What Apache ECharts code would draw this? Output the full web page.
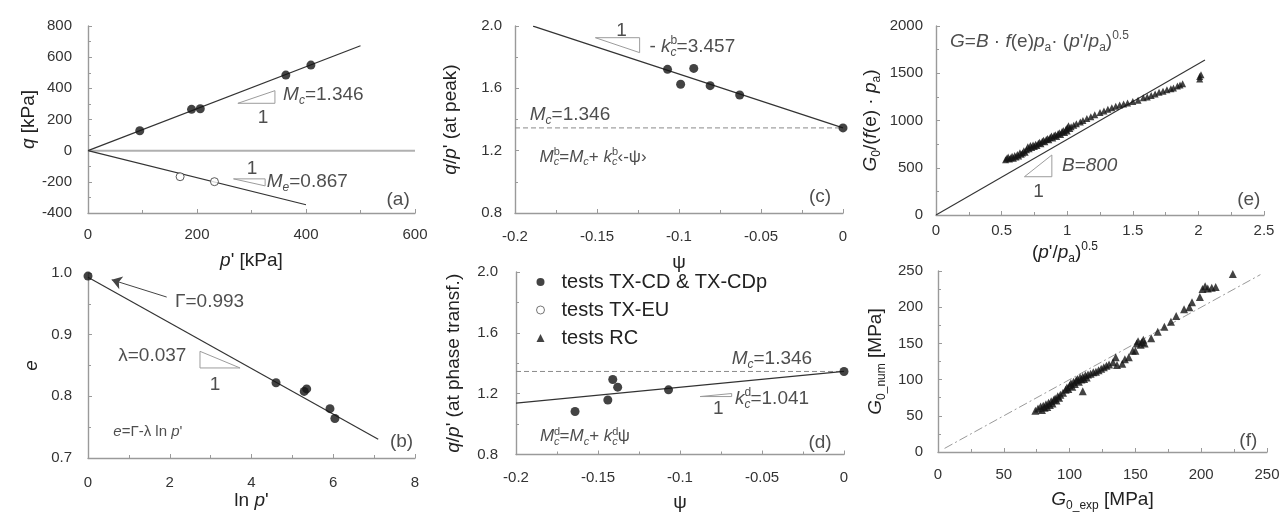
<!DOCTYPE html>
<html>
<head>
<meta charset="utf-8">
<script src="https://cdn.jsdelivr.net/npm/echarts@6/dist/echarts.min.js"></script>
<style>
  html, body { margin: 0; padding: 0; background: #fff; }
  #chart { width: 1283px; height: 513px; }
</style>
</head>
<body>
<div id="chart"></div>
<script>
// ---------- (a) stress ratio at critical state: q versus p'
const aCompP = [95, 190, 206, 363, 409];
const aCompQ = [128, 265, 269, 485, 549];
const aExtP = [169, 232];
const aExtQ = [-167, -199];
const Mc = 1.346;
const Me = 0.867;
const aMcLineP = [0, 500];
const aMeLineP = [0, 400];

// ---------- (b) critical state line e versus ln p'
const bLnP = [0, 4.60, 5.29, 5.35, 5.92, 6.04];
const bE = [0.995, 0.822, 0.808, 0.812, 0.780, 0.764];
const Gamma = 0.993;
const lambda = 0.037;
const bLineLnP = [0, 7.1];

// ---------- (c) stress ratio at peak versus state parameter
const cPsi = [-0.107, -0.099, -0.091, -0.081, -0.063, 0];
const cRatio = [1.722, 1.626, 1.728, 1.617, 1.557, 1.346];
const minusKcb = 3.457;
const cLinePsi = [-0.189, 0];

// ---------- (d) stress ratio at phase transformation versus state parameter
const dPsi = [-0.164, -0.144, -0.141, -0.138, -0.107, 0];
const dRatio = [1.083, 1.158, 1.293, 1.243, 1.225, 1.346];
const kcd = 1.041;
const dLinePsi = [-0.2, 0];

// ---------- (e) normalised small-strain shear modulus, RC tests
const eRC = [
  [0.53,585],[0.54,600],[0.55,615],[0.56,592],[0.57,606],[0.58,622],[0.59,600],[0.60,630],
  [0.61,614],[0.62,640],[0.63,625],[0.64,660],[0.65,642],[0.66,655],[0.67,680],[0.68,664],
  [0.69,690],[0.70,722],[0.71,702],[0.72,735],[0.73,715],[0.74,742],[0.75,726],[0.76,750],
  [0.77,736],[0.78,760],[0.79,770],[0.80,755],[0.81,780],[0.82,790],[0.83,776],[0.84,800],
  [0.85,810],[0.86,796],[0.87,820],[0.88,835],[0.89,816],[0.90,840],[0.91,850],[0.92,832],
  [0.93,860],[0.94,870],[0.95,852],[0.96,880],[0.97,895],[0.98,872],[0.99,905],[1.00,922],
  [1.00,890],[1.01,945],[1.02,915],[1.03,935],[1.05,950],[1.07,965],[1.10,985],[1.12,1000],
  [1.15,1020],[1.18,1040],[1.21,1060],[1.25,1085],[1.28,1100],[1.31,1120],[1.34,1135],[1.37,1150],
  [1.40,1165],[1.43,1175],[1.46,1185],[1.50,1200],[1.54,1215],[1.58,1240],[1.61,1250],[1.64,1265],
  [1.67,1280],[1.70,1300],[1.73,1310],[1.76,1325],[1.79,1335],[1.81,1345],[1.84,1365],[1.86,1375],
  [1.88,1390],[2.01,1440],[2.01,1465],[2.02,1485]
];
const B = 800;
const eLineX = [0, 2.05];

// ---------- (f) computed versus measured G0
const fRC = [
  [74,57],[76,60],[78,63],[79,58],[80,64],[81,61],[82,66],[83,62],[84,68],[85,65],[86,70],[87,67],
  [88,72],[89,74],[90,71],[91,77],[92,75],[93,79],[95,82],[97,86],[98,89],[99,87],[100,92],[101,95],
  [102,90],[103,97],[104,94],[105,99],[106,101],[107,97],[108,103],[109,100],[110,104],[111,101],
  [112,106],[113,103],[114,107],[116,108],[118,110],[120,111],[122,113],[124,115],[126,117],[128,119],
  [110,84],[130,121],[133,124],[135,131],[136,120],[140,122],[142,128],[145,131],[148,140],[150,140],
  [151,150],[152,153],[154,148],[155,152],[156,155],[157,150],[162,157],[167,166],[172,173],[177,180],
  [181,188],[187,197],[191,200],[193,207],[199,214],[201,225],[203,229],[205,226],[208,227],[211,228],
  [224,246]
];
const fOneToOne = [5, 245];

// ---------- styling
const FF = '"Liberation Sans", Arial, Helvetica, sans-serif';
const TXT = '#222';
const AX = '#9a9a9a';
const INK = '#141414';
const LEG_CD = 'tests TX-CD & TX-CDp';
const LEG_EU = 'tests TX-EU';
const LEG_RC = 'tests RC';

function richSet(fs) {
  const sub = Math.round(fs * 0.62);
  const lh = Math.round(fs * 1.25);
  const base = { fontFamily: FF, color: TXT };
  return {
    n:  Object.assign({ fontSize: fs, lineHeight: lh }, base),
    i:  Object.assign({ fontSize: fs, lineHeight: lh, fontStyle: 'italic' }, base),
    s:  Object.assign({ fontSize: sub, lineHeight: sub + 2, verticalAlign: 'bottom' }, base),
    si: Object.assign({ fontSize: sub, lineHeight: sub + 2, verticalAlign: 'bottom', fontStyle: 'italic' }, base),
    u:  Object.assign({ fontSize: sub, lineHeight: sub + 2, verticalAlign: 'top' }, base),
    u0: Object.assign({ fontSize: sub, lineHeight: sub + 2, verticalAlign: 'top', width: 0 }, base)
  };
}
const R19 = richSet(19);
const R17 = richSet(17);
const R15 = richSet(15);

const grids = [
  { left: 88,  top: 26,  width: 327, height: 187 }, // (a)
  { left: 515, top: 26,  width: 328, height: 187 }, // (c)
  { left: 936, top: 26,  width: 328, height: 189 }, // (e)
  { left: 88,  top: 273, width: 327, height: 185 }, // (b)
  { left: 516, top: 272, width: 328, height: 186 }, // (d)
  { left: 938, top: 271, width: 329, height: 187 }  // (f)
];
const GA = 0, GC = 1, GE = 2, GB = 3, GD = 4, GF = 5;

function axis(gi, min, max, interval, name, nameGap, labelMargin, fmt, extra) {
  const ax = {
    gridIndex: gi, type: 'value', min: min, max: max, interval: interval,
    axisLine: { show: true, onZero: false, lineStyle: { color: AX, width: 1.4 } },
    axisTick: { show: true, inside: true, length: 4, lineStyle: { color: AX, width: 1 } },
    minorTick: { show: true, splitNumber: 2, length: 3, lineStyle: { color: AX, width: 1 } },
    splitLine: { show: false },
    axisLabel: { fontSize: 15, color: '#333', fontFamily: FF, margin: labelMargin, formatter: fmt || (v => String(v)) },
    name: name, nameLocation: 'middle', nameGap: nameGap,
    nameTextStyle: { fontSize: 19, color: TXT, fontFamily: FF, rich: R19 }
  };
  return Object.assign(ax, extra || {});
}
const f1 = v => v.toFixed(1);

const xAxes = [
  axis(GA, 0, 600, 200, '{i|p}{n|\' [kPa]}', 36, 14),
  axis(GC, -0.2, 0, 0.05, '{n|ψ}', 38, 16),
  axis(GE, 0, 2.5, 0.5, '{n|(}{i|p}{n|\'/}{i|p}{s|a}{n|)}{u|0.5}', 26, 8, null,
       { nameTextStyle: { fontSize: 19, color: TXT, fontFamily: FF, rich: R19, padding: [0, 70, 0, 0] } }),
  axis(GB, 0, 8, 2, '{n|ln }{i|p}{n|\'}', 28, 17),
  axis(GD, -0.2, 0, 0.05, '{n|ψ}', 36, 16),
  axis(GF, 0, 250, 50, '{i|G}{s|0_exp}{n| [MPa]}', 36, 15)
];
const yAxes = [
  axis(GA, -400, 800, 200, '{i|q}{n| [kPa]}', 47, 16),
  axis(GC, 0.8, 2.0, 0.4, '{i|q}{n|/}{i|p}{n|\' (at peak)}', 52, 13, f1),
  axis(GE, 0, 2000, 500, '{i|G}{s|0}{n|/(}{i|f}{n|(e) · }{i|p}{s|a}{n|)}', 53, 13),
  axis(GB, 0.7, 1.0, 0.1, '{i|e}', 44, 16, f1),
  axis(GD, 0.8, 2.0, 0.4, '{i|q}{n|/}{i|p}{n|\' (at phase transf.)}', 50, 18, f1),
  axis(GF, 0, 250, 50, '{i|G}{s|0_num}{n| [MPa]}', 50, 15)
];

// ---------- series helpers
function pts(xs, ys) { return xs.map((x, k) => [x, ys[k]]); }
function scatter(gi, name, data, symbol, size, itemStyle) {
  return {
    type: 'scatter', name: name, xAxisIndex: gi, yAxisIndex: gi, data: data,
    symbol: symbol, symbolSize: size, itemStyle: itemStyle, z: 5, silent: true
  };
}
function line(gi, data, color, width, type, z) {
  return {
    type: 'line', xAxisIndex: gi, yAxisIndex: gi, data: data, symbol: 'none',
    lineStyle: { color: color, width: width, type: type || 'solid' }, z: z || 3,
    silent: true, animation: false
  };
}
function text(gi, x, y, str, align, rich) {
  return {
    type: 'scatter', xAxisIndex: gi, yAxisIndex: gi, data: [[x, y]], symbolSize: 0,
    silent: true, z: 6,
    label: {
      show: true, position: 'inside', align: align || 'left', verticalAlign: 'middle',
      formatter: () => str, rich: rich || R19
    }
  };
}
const filled = { color: INK };
const open = { color: '#fff', borderColor: '#333', borderWidth: 1 };
const tri = { color: INK };
const slopeColor = '#9c9c9c';

const series = [
  // (a)
  line(GA, [[0, 0], [600, 0]], '#b0b0b0', 2, 'solid', 2),
  line(GA, aMcLineP.map(p => [p, Mc * p]), '#333', 1.2),
  line(GA, aMeLineP.map(p => [p, -Me * p]), '#333', 1.2),
  scatter(GA, LEG_CD, pts(aCompP, aCompQ), 'circle', 9, filled),
  scatter(GA, LEG_EU, pts(aExtP, aExtQ), 'circle', 8, open),
  line(GA, [[275, 304], [343, 304], [343, 385], [275, 304]], slopeColor, 1),
  line(GA, [[267, -181], [325, -181], [325, -226], [267, -181]], slopeColor, 1),
  text(GA, 321, 208, '{n|1}', 'center'),
  text(GA, 358, 357, '{i|M}{si|c}{n|=1.346}'),
  text(GA, 301, -113, '{n|1}', 'center'),
  text(GA, 328, -199, '{i|M}{si|e}{n|=0.867}'),
  text(GA, 569, -316, '{n|(a)}', 'center'),

  // (c)
  line(GC, [[-0.2, Mc], [0, Mc]], '#8a8a8a', 1, [5, 3]),
  line(GC, cLinePsi.map(p => [p, Mc - minusKcb * p]), '#333', 1.2),
  scatter(GC, LEG_CD, pts(cPsi, cRatio), 'circle', 9, filled),
  line(GC, [[-0.151, 1.925], [-0.124, 1.925], [-0.124, 1.829], [-0.151, 1.925]], slopeColor, 1),
  text(GC, -0.135, 1.969, '{n|1}', 'center'),
  text(GC, -0.118, 1.867, '{n|- }{i|k}{u0|b}{si|c}{n|=3.457}'),
  text(GC, -0.191, 1.429, '{i|M}{si|c}{n|=1.346}'),
  text(GC, -0.185, 1.159, '{i|M}{u0|b}{si|c}{n|=}{i|M}{si|c}{n|+ }{i|k}{u0|b}{si|c}{n|‹-ψ›}', 'left', R17),
  text(GC, -0.014, 0.905, '{n|(c)}', 'center'),

  // (e)
  line(GE, eLineX.map(x => [x, B * x]), '#333', 1.1),
  scatter(GE, LEG_RC, eRC, 'triangle', 7, tri),
  line(GE, [[0.674, 405], [0.883, 405], [0.883, 635], [0.674, 405]], slopeColor, 1),
  text(GE, 0.781, 247, '{n|1}', 'center'),
  text(GE, 0.96, 522, '{i|B=800}'),
  text(GE, 0.107, 1834, '{i|G}{n|=}{i|B}{n| · }{i|f}{n|(e)}{i|p}{s|a}{n|· (}{i|p}{n|\'/}{i|p}{s|a}{n|)}{u|0.5}', 'left', richSet(19)),
  text(GE, 2.384, 159, '{n|(e)}', 'center'),

  // (b)
  line(GB, bLineLnP.map(x => [x, Gamma - lambda * x]), '#333', 1.2),
  scatter(GB, LEG_CD, pts(bLnP, bE), 'circle', 9, filled),
  line(GB, [[2.74, 0.873], [2.74, 0.846], [3.72, 0.846], [2.74, 0.873]], slopeColor, 1),
  {
    type: 'line', xAxisIndex: GB, yAxisIndex: GB, data: [], silent: true,
    markLine: {
      silent: true, symbol: ['none', 'arrow'], symbolSize: 10,
      label: { show: false },
      itemStyle: { color: '#444' },
      lineStyle: { color: '#444', width: 1, type: 'solid' },
      data: [[{ coord: [1.925, 0.961] }, { coord: [0.58, 0.989] }]],
      animation: false
    }
  },
  text(GB, 2.13, 0.954, '{n|Γ=0.993}'),
  text(GB, 0.74, 0.865, '{n|λ=0.037}'),
  text(GB, 3.11, 0.819, '{n|1}', 'center'),
  text(GB, 0.62, 0.743, '{i|e}{n|=Γ-λ ln }{i|p}{n|\'}', 'left', R15),
  text(GB, 7.67, 0.727, '{n|(b)}', 'center'),

  // (d)
  line(GD, [[-0.2, Mc], [0, Mc]], '#8a8a8a', 1, [5, 3]),
  line(GD, dLinePsi.map(p => [p, Mc + kcd * p]), '#333', 1.2),
  scatter(GD, LEG_CD, pts(dPsi, dRatio), 'circle', 9, filled),
  line(GD, [[-0.0878, 1.181], [-0.0685, 1.181], [-0.0685, 1.201], [-0.0878, 1.181]], slopeColor, 1),
  text(GD, -0.0766, 1.10, '{n|1}', 'center'),
  text(GD, -0.0665, 1.164, '{i|k}{u0|d}{si|c}{n|=1.041}'),
  text(GD, -0.0685, 1.432, '{i|M}{si|c}{n|=1.346}'),
  text(GD, -0.1854, 0.918, '{i|M}{u0|d}{si|c}{n|=}{i|M}{si|c}{n|+ }{i|k}{u0|d}{si|c}{n|ψ}', 'left', R17),
  text(GD, -0.0146, 0.875, '{n|(d)}', 'center'),

  // (f)
  line(GF, fOneToOne.map(v => [v, v]), '#9a9a9a', 1, [9, 3, 2, 3]),
  scatter(GF, LEG_RC, fRC, 'triangle', 8, tri),
  text(GF, 235.8, 15.5, '{n|(f)}', 'center')
];

const chart = echarts.init(document.getElementById('chart'), null, { renderer: 'canvas' });
chart.setOption({
  animation: false,
  backgroundColor: '#fff',
  textStyle: { fontFamily: FF },
  grid: grids,
  xAxis: xAxes,
  yAxis: yAxes,
  legend: {
    orient: 'vertical', left: 531, top: 267, itemWidth: 8, itemHeight: 8, itemGap: 8,
    selectedMode: false,
    textStyle: { fontSize: 20, color: TXT, fontFamily: FF, padding: [0, 0, 0, 12] },
    data: [
      { name: LEG_CD, icon: 'circle', itemStyle: { color: INK } },
      { name: LEG_EU, icon: 'circle', itemStyle: { color: '#fff', borderColor: '#555', borderWidth: 1 } },
      { name: LEG_RC, icon: 'triangle', itemStyle: { color: INK } }
    ]
  },
  series: series
});
</script>
</body>
</html>
